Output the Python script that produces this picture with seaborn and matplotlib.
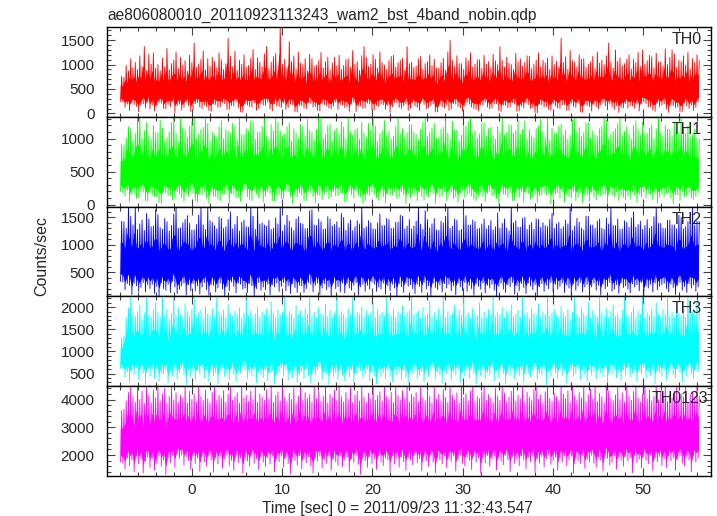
import numpy as np
import seaborn as sns
import matplotlib.pyplot as plt
from matplotlib.ticker import MultipleLocator

# Light curve: per 0.25 s column, the highest spike (hi)
# and the deepest dip (lo) for each band. Time runs from -7.9 s to 56.2 s.
t_start, t_end = -7.9, 56.2

th0_hi = [760, 740, 980, 870, 1120, 940, 1050, 900, 1180, 960, 1370, 880, 1210, 1010, 1240, 930,
          1000, 870, 1130, 950, 1330, 900, 1020, 1090, 1260, 920, 1150, 990, 1080, 860, 1190, 1040,
          1440, 940, 1010, 1110, 1280, 890, 1120, 970, 1150, 1060, 930, 1240, 1100, 900, 1020, 1540,
          1170, 950, 1270, 880, 1090, 1010, 1200, 940, 980, 1130, 1310, 900, 1140, 1050, 960, 1220,
          1370, 920, 1050, 1160, 1230, 890, 1780, 1000, 1110, 940, 1470, 1060, 1180, 910, 1260, 1030,
          1000, 1120, 870, 1210, 1120, 960, 990, 1080, 1250, 930, 1060, 1150, 890, 1030, 1150, 970,
          1190, 900, 980, 1100, 1120, 940, 1290, 1010, 1060, 880, 1180, 1370, 1150, 960, 1010, 1200,
          1110, 930, 1260, 1040, 990, 900, 1080, 1170, 1190, 950, 1040, 1090, 1130, 880, 1370, 1020,
          1050, 940, 970, 1120, 1170, 900, 1020, 1060, 1200, 980, 1110, 930, 930, 1040, 1130, 890,
          1260, 1500, 1090, 960, 1180, 1020, 1020, 900, 1140, 1080, 1240, 950, 1010, 1100, 1100, 920,
          1190, 1010, 1060, 940, 1210, 1080, 1000, 1370, 1080, 950, 1150, 1030, 1000, 900, 1230, 1060,
          1120, 970, 1050, 1180, 1170, 920, 1010, 1090, 1240, 960, 1090, 1030, 1130, 900, 1180, 1000,
          1070, 950, 1540, 1040, 1160, 910, 1290, 1080, 1050, 960, 1200, 1110, 1120, 940, 1010, 1060,
          1170, 920, 1260, 1030, 1090, 1000, 1180, 1440, 1050, 930, 1300, 1070, 1140, 980, 1020, 1110,
          1200, 910, 1110, 1040, 1250, 960, 1300, 1010, 1080, 1190, 1160, 930, 1230, 1050, 1060, 970,
          1320, 1000, 1150, 1300, 1220, 940, 1090, 1060, 1180, 990, 1250, 910, 1120, 1040, 1200, 1080]
th0_lo = [240, 230, 120, 190, 60, 210, 180, 140, 30, 170, 200, 110, 230, 90, 170, 50,
          150, 220, 210, 100, 90, 180, 130, 240, 10, 160, 190, 70, 120, 230, 160, 40,
          70, 200, 220, 130, 100, 170, 140, 60, 40, 190, 180, 120, 130, 220, 200, 80,
          80, 160, 150, 240, 110, 30, 20, 190, 170, 140, 130, 210, 60, 100, 190, 170,
          160, 230, 90, 50, 200, 150, 140, 120, 210, 80, 120, 190, 170, 30, 30, 160,
          160, 110, 90, 220, 200, 130, 140, 60, 50, 210, 180, 150, 110, 90, 150, 230,
          80, 180, 170, 120, 130, 40, 200, 230, 40, 150, 150, 100, 110, 210, 190, 70,
          70, 160, 140, 190, 180, 80, 160, 20, 130, 220, 210, 120, 100, 150, 190, 60,
          100, 210, 150, 120, 60, 240, 180, 90, 120, 160, 200, 30, 30, 180, 140, 110,
          170, 60, 90, 200, 190, 140, 110, 50, 150, 220, 190, 130, 100, 80, 50, 170,
          160, 230, 130, 90, 110, 200, 200, 60, 40, 170, 160, 110, 130, 220, 190, 40,
          50, 150, 110, 210, 180, 100, 120, 20, 10, 190, 170, 130, 140, 80, 60, 200,
          150, 110, 100, 170, 180, 60, 60, 210, 140, 120, 200, 30, 20, 180, 160, 140,
          50, 180, 130, 90, 170, 220, 150, 70, 190, 130, 80, 160, 20, 120, 110, 200,
          110, 160, 150, 100, 190, 50, 200, 230, 200, 130, 130, 70, 40, 210, 140, 170,
          200, 90, 20, 160, 160, 120, 130, 30, 40, 210, 150, 100, 170, 60, 120, 240]

th1_hi = [920, 900, 1010, 1180, 1150, 960, 1080, 1330, 1330, 1000, 1120, 1240, 1040, 990, 1200, 1090,
          1090, 1280, 1160, 970, 1010, 1100, 1240, 1330, 1080, 950, 1330, 1170, 1130, 1020, 1190, 1260,
          1330, 990, 1060, 1140, 1170, 1300, 1230, 960, 1100, 1050, 1010, 1180, 1280, 1000, 1140, 1110,
          1070, 1230, 1190, 980, 1330, 1060, 1050, 1150, 1120, 1270, 1260, 990, 1090, 1100, 1180, 1330,
          1030, 970, 1210, 1120, 1330, 1250, 1110, 1040, 1070, 1180, 1240, 960, 1150, 1080, 1000, 1220,
          1180, 1040, 1290, 1130, 1090, 980, 1140, 1330, 1330, 1010, 1060, 1200, 1220, 950, 1120, 1160,
          1070, 1260, 1180, 1000, 1330, 1100, 1050, 1140, 1160, 990, 1250, 1080, 1020, 1230, 1130, 1290,
          1190, 960, 1080, 1120, 1270, 1040, 1110, 990, 1040, 1180, 1330, 1070, 1150, 1020, 1090, 1210,
          1210, 1100, 1060, 980, 1140, 1250, 1330, 1030, 1100, 1160, 1230, 1000, 1020, 1140, 1170, 1330,
          1080, 990, 1260, 1130, 1130, 970, 1050, 1190, 1190, 1260, 1330, 1080, 1120, 1010, 1070, 1240,
          1240, 1030, 1150, 1170, 1030, 990, 1180, 1100, 1330, 1050, 1090, 1210, 1200, 1080, 1120, 1270,
          1060, 1140, 1270, 990, 1140, 1040, 1010, 1150, 1190, 1290, 1100, 1020, 1330, 970, 1160, 1090,
          1080, 1190, 1220, 1050, 1130, 990, 1050, 1280, 1330, 1100, 1170, 1030, 1090, 1240, 1240, 1010,
          1120, 1060, 1030, 1150, 1190, 1330, 1280, 1000, 1070, 1110, 1150, 1230, 1330, 1040, 1110, 1180,
          1060, 990, 1200, 1270, 1140, 1050, 1250, 1090, 1080, 1160, 1210, 1000, 1150, 1330, 1090, 1040,
          1200, 1140, 1140, 1030, 1250, 1100, 1090, 1330, 1150, 1080, 1190, 1020, 1060, 1140, 1010, 990]
th1_lo = [200, 180, 130, 220, 40, 150, 170, 90, 110, 210, 190, 60, 60, 180, 150, 120,
          120, 30, 10, 190, 180, 130, 140, 70, 90, 200, 160, 110, 50, 170, 130, 210,
          170, 60, 30, 150, 140, 200, 100, 20, 190, 130, 120, 80, 60, 160, 160, 220,
          20, 170, 150, 100, 110, 50, 190, 230, 120, 80, 60, 210, 160, 100, 180, 40,
          130, 190, 170, 60, 50, 140, 150, 90, 90, 200, 200, 120, 10, 150, 110, 180,
          150, 60, 60, 210, 180, 120, 30, 140, 140, 80, 160, 200, 90, 110, 200, 130,
          130, 170, 170, 40, 50, 210, 150, 100, 200, 140, 110, 20, 60, 160, 140, 190,
          150, 100, 60, 180, 120, 30, 160, 140, 140, 200, 90, 110, 200, 150, 10, 170,
          100, 160, 140, 60, 190, 120, 70, 150, 120, 190, 170, 20, 170, 110, 130, 200,
          60, 140, 190, 90, 120, 40, 170, 210, 110, 150, 180, 130, 80, 60, 130, 190,
          120, 50, 170, 200, 130, 140, 90, 20, 200, 160, 150, 110, 180, 60, 60, 150,
          110, 200, 40, 180, 170, 80, 110, 160, 30, 130, 150, 190, 140, 170, 10, 100,
          160, 180, 100, 190, 40, 150, 120, 100, 200, 60, 110, 180, 30, 140, 140, 50,
          190, 120, 70, 160, 130, 150, 160, 20, 180, 140, 110, 190, 60, 130, 110, 70,
          130, 80, 190, 140, 30, 160, 120, 190, 100, 170, 150, 70, 170, 20, 110, 150,
          120, 170, 180, 100, 10, 150, 150, 60, 190, 120, 130, 180, 100, 80, 120, 180]

th2_hi = [1430, 1420, 1300, 1695, 1520, 1360, 1695, 1280, 1380, 1450, 1260, 1570, 1470, 1330, 1340, 1640,
          1550, 1310, 1280, 1480, 1420, 1250, 1350, 1560, 1695, 1300, 1310, 1400, 1460, 1530, 1390, 1270,
          1270, 1370, 1540, 1695, 1360, 1280, 1695, 1440, 1410, 1350, 1290, 1510, 1480, 1300, 1330, 1460,
          1600, 1290, 1370, 1520, 1250, 1410, 1450, 1330, 1320, 1695, 1520, 1280, 1695, 1380, 1400, 1360,
          1340, 1450, 1280, 1300, 1490, 1380, 1695, 1250, 1360, 1540, 1430, 1310, 1260, 1470, 1510, 1390,
          1380, 1290, 1300, 1620, 1640, 1360, 1350, 1470, 1420, 1280, 1290, 1510, 1470, 1340, 1370, 1420,
          1310, 1570, 1500, 1260, 1390, 1450, 1260, 1330, 1440, 1380, 1695, 1300, 1330, 1440, 1400, 1290,
          1280, 1400, 1560, 1350, 1350, 1480, 1460, 1300, 1300, 1410, 1410, 1540, 1520, 1290, 1340, 1460,
          1290, 1340, 1430, 1695, 1370, 1280, 1620, 1460, 1310, 1380, 1480, 1270, 1260, 1430, 1395, 1520,
          1695, 1300, 1340, 1470, 1450, 1260, 1280, 1530, 1530, 1360, 1360, 1450, 1420, 1290, 1300, 1380,
          1470, 1290, 1350, 1440, 1270, 1330, 1580, 1300, 1390, 1470, 1310, 1250, 1695, 1400, 1440, 1320,
          1320, 1480, 1500, 1280, 1360, 1410, 1280, 1470, 1460, 1320, 1400, 1350, 1330, 1460, 1570, 1300,
          1380, 1410, 1290, 1330, 1450, 1380, 1695, 1260, 1340, 1480, 1410, 1300, 1270, 1520, 1520, 1360,
          1360, 1300, 1430, 1470, 1300, 1280, 1490, 1380, 1695, 1350, 1350, 1470, 1280, 1290, 1440, 1410,
          1320, 1490, 1600, 1320, 1370, 1430, 1280, 1350, 1460, 1300, 1340, 1510, 1695, 1390, 1390, 1300,
          1300, 1450, 1450, 1360, 1360, 1290, 1540, 1500, 1290, 1330, 1420, 1430, 1695, 1360, 1430, 1420]
th2_lo = [330, 320, 180, 290, 260, 90, 300, 250, 150, 220, 310, 140, 270, 200, 280, 110,
          240, 60, 310, 200, 170, 280, 130, 330, 230, 110, 190, 250, 300, 80, 270, 160,
          290, 160, 250, 100, 230, 310, 180, 80, 270, 260, 140, 210, 300, 190, 70, 240,
          160, 320, 240, 120, 300, 280, 190, 210, 130, 290, 250, 60, 200, 310, 170, 230,
          180, 280, 90, 270, 230, 300, 150, 240, 310, 160, 250, 110, 290, 220, 130, 260,
          250, 130, 200, 310, 280, 140, 260, 300, 90, 210, 290, 180, 230, 70, 300, 200,
          240, 140, 300, 120, 290, 210, 170, 260, 310, 80, 230, 280, 150, 260, 190, 320,
          280, 150, 230, 190, 300, 100, 250, 160, 280, 210, 60, 290, 230, 130, 300, 240,
          270, 200, 110, 280, 240, 130, 310, 190, 250, 60, 300, 220, 180, 270, 140, 290,
          210, 280, 160, 250, 90, 300, 230, 170, 310, 150, 260, 200, 80, 290, 240, 190,
          300, 120, 260, 210, 280, 170, 70, 240, 300, 190, 130, 270, 230, 310, 100, 250,
          160, 290, 220, 110, 300, 250, 180, 270, 60, 230, 290, 150, 260, 200, 310, 140,
          280, 190, 240, 300, 130, 260, 210, 90, 290, 170, 250, 310, 140, 230, 280, 100,
          230, 300, 170, 260, 80, 280, 200, 240, 310, 150, 190, 270, 110, 300, 220, 250,
          190, 120, 290, 230, 270, 160, 310, 60, 250, 210, 280, 140, 300, 180, 240, 270,
          300, 200, 140, 280, 220, 90, 260, 310, 170, 240, 130, 290, 210, 270, 150, 230]

th3_hi = [1310, 1350, 1760, 1980, 2241, 1850, 1790, 1900, 2050, 1720, 1870, 2241, 1820, 1760, 1940, 2100,
          1880, 1760, 2241, 1800, 1950, 1720, 1860, 2241, 1790, 1990, 1830, 1750, 2080, 1900, 1810, 1960,
          2241, 1780, 1870, 1930, 1740, 2020, 1850, 1800, 1960, 1770, 2241, 1890, 1820, 1940, 1760, 2060,
          1850, 1790, 1910, 1840, 1980, 1750, 1870, 2241, 1800, 1920, 1780, 1850, 2010, 1760, 1890, 1830,
          1950, 1790, 2120, 1860, 1770, 1940, 1820, 1880, 2241, 1790, 1900, 1850, 1760, 2030, 1830, 1910,
          1780, 1960, 1840, 2241, 1800, 1880, 1750, 1990, 1860, 1820, 2070, 1790, 1930, 1770, 1870, 2241,
          1810, 1900, 1840, 1760, 1960, 1830, 2241, 1790, 1890, 1850, 2000, 1770, 1920, 1810, 1870, 2090,
          1760, 1940, 1830, 1880, 1790, 2241, 1860, 1800, 1950, 1770, 1900, 1840, 2020, 1790, 1880, 1930,
          2241, 1820, 1870, 1910, 1740, 1990, 1800, 1850, 2150, 1780, 1880, 1720, 1960, 1830, 2241, 1770,
          1900, 1810, 1860, 2040, 1750, 1930, 1820, 2241, 1790, 1870, 1740, 1980, 1850, 1800, 2100, 1770,
          1890, 1760, 1950, 1840, 2241, 1780, 1870, 1820, 1990, 1750, 1910, 1860, 2060, 1790, 1840, 1930,
          1770, 2241, 1820, 1880, 1740, 1970, 1850, 1800, 2080, 1760, 1900, 1830, 2241, 1790, 1870, 1950,
          1810, 1760, 2020, 1850, 1790, 1940, 1720, 1880, 2241, 1830, 1770, 1990, 1860, 1800, 2110, 1750,
          1920, 1840, 1780, 2241, 1870, 1810, 1960, 1760, 1890, 2050, 1800, 1850, 1740, 1930, 2241, 1820,
          1790, 1880, 2000, 1770, 1910, 1840, 2241, 1760, 1870, 1820, 1970, 1800, 2090, 1850, 1780, 1940,
          1830, 2241, 1790, 1880, 1760, 2010, 1850, 1810, 1950, 1770, 2241, 1860, 1900, 1820, 2130, 1880]
th3_lo = [620, 600, 410, 530, 300, 580, 470, 640, 360, 600, 500, 260, 560, 440, 610, 390,
          610, 330, 520, 480, 580, 280, 540, 430, 600, 370, 510, 640, 460, 250, 590, 420,
          530, 350, 570, 490, 620, 400, 560, 310, 600, 450, 520, 270, 580, 630, 430, 490,
          360, 610, 470, 320, 550, 500, 640, 580, 380, 520, 440, 600, 290, 540, 470, 410,
          590, 340, 510, 560, 260, 480, 530, 620, 450, 600, 350, 520, 410, 570, 300, 490,
          550, 390, 610, 440, 280, 530, 470, 580, 640, 360, 540, 490, 250, 590, 430, 520,
          370, 600, 460, 330, 550, 420, 580, 300, 510, 630, 560, 400, 480, 610, 340, 530,
          450, 270, 590, 420, 510, 380, 570, 440, 310, 600, 470, 530, 360, 580, 410, 290,
          550, 500, 600, 390, 460, 540, 320, 570, 430, 590, 620, 380, 520, 460, 280, 560,
          490, 610, 350, 540, 470, 600, 300, 530, 440, 580, 400, 620, 510, 260, 570, 450,
          600, 370, 520, 480, 620, 330, 560, 410, 590, 500, 270, 540, 460, 610, 380, 520,
          450, 580, 300, 600, 490, 420, 560, 630, 350, 510, 470, 590, 240, 550, 430, 600,
          520, 390, 610, 460, 560, 280, 530, 600, 440, 500, 620, 360, 570, 480, 310, 590,
          470, 540, 380, 600, 510, 430, 620, 290, 560, 490, 600, 410, 530, 340, 580, 460,
          610, 420, 500, 570, 320, 550, 480, 630, 390, 540, 460, 600, 270, 560, 510, 440,
          580, 350, 530, 610, 470, 400, 590, 510, 300, 560, 440, 620, 490, 380, 570, 530]

th0123_hi = [3600, 3650, 3950, 4250, 4480, 4100, 3900, 4480, 4000, 4300, 3850, 4480, 4150, 3880, 4350, 4050,
             4480, 3950, 4200, 4400, 3850, 4100, 4480, 3980, 4250, 3900, 4150, 4050, 4480, 3870, 4300, 4000,
             4200, 3920, 4480, 4100, 3960, 4350, 4020, 3880, 4250, 4480, 3950, 4150, 4050, 4320, 3900, 4200,
             4480, 3980, 4100, 4250, 3870, 4480, 4050, 4150, 3930, 4300, 4000, 4480, 3900, 4200, 4080, 3960,
             4350, 4020, 4480, 3890, 4150, 4280, 3950, 4480, 4070, 3920, 4220, 4000, 4400, 3880, 4130, 4480,
             3970, 4250, 4050, 4180, 3900, 4480, 4030, 4300, 3940, 4120, 4480, 3870, 4200, 4060, 4340, 3960,
             4480, 4100, 3920, 4250, 4010, 4480, 3890, 4160, 4300, 3950, 4480, 4080, 3900, 4230, 4020, 4480,
             3970, 4150, 4280, 3940, 4480, 4100, 4010, 4260, 3880, 4480, 4140, 3990, 4320, 4060, 4480, 3930,
             4200, 4090, 4250, 3910, 4480, 4050, 3960, 4310, 4120, 3870, 4480, 4020, 4190, 3940, 4360, 4080,
             3900, 4480, 4150, 4000, 4240, 3880, 4480, 4070, 4200, 3950, 4310, 4480, 3920, 4100, 4030, 4270,
             4480, 3960, 4180, 4050, 3890, 4400, 4120, 3970, 4480, 4230, 3910, 4080, 4300, 4480, 3940, 4160,
             4020, 4480, 3900, 4260, 4090, 3960, 4350, 4480, 4010, 4170, 3880, 4280, 4480, 4040, 3930, 4210,
             4100, 3950, 4480, 4190, 4030, 4320, 3900, 4480, 4140, 3980, 4250, 4060, 4480, 3920, 4180, 4380,
             4010, 4480, 3940, 4220, 4100, 3890, 4480, 4300, 4050, 3960, 4170, 4480, 4000, 4240, 3910, 4480,
             4130, 3970, 4290, 4480, 4060, 3920, 4200, 4480, 4020, 4340, 3950, 4110, 4480, 3990, 4260, 4080,
             4480, 3930, 4150, 4040, 4300, 4480, 3960, 4210, 4090, 4480, 3900, 4180, 4270, 4010, 4480, 4120]
th0123_lo = [1750, 1700, 1500, 1900, 1620, 1820, 1400, 1950, 1680, 1850, 1350, 1780, 1920, 1560, 1880, 1450,
             1700, 1960, 1600, 1820, 1300, 1900, 1720, 1980, 1550, 2050, 1880, 2000, 1640, 1930, 1800, 1480,
             1970, 1700, 1890, 1420, 1950, 1760, 1600, 1980, 1820, 1380, 1900, 1680, 1940, 1520, 1850, 1990,
             1630, 1810, 1450, 1960, 1720, 1880, 1340, 1920, 1780, 1600, 1990, 1700, 1860, 1470, 1930, 1750,
             1580, 1900, 1680, 1970, 1400, 1840, 1760, 1950, 1560, 1880, 1700, 1320, 1920, 1800, 1640, 1980,
             1500, 1860, 1720, 1940, 1600, 1350, 1900, 1780, 1960, 1530, 1840, 1700, 1990, 1450, 1880, 1760,
             1620, 1950, 1580, 1820, 1920, 1380, 1860, 1740, 1980, 1660, 1300, 1900, 1800, 1560, 1940, 1700,
             1850, 1480, 1960, 1740, 1620, 1900, 1830, 1400, 1970, 1680, 1880, 1560, 1940, 1760, 1450, 1900,
             1820, 1650, 1990, 1720, 1870, 1430, 1950, 1790, 1590, 2000, 1740, 1360, 1910, 1830, 1680, 1960,
             1540, 1880, 1770, 1960, 1420, 1850, 1990, 1700, 1610, 1930, 1800, 1480, 1960, 1750, 1900, 1350,
             1870, 1720, 1980, 1590, 1840, 1950, 1460, 1900, 1780, 1650, 1990, 1820, 1400, 1940, 1700, 1860,
             1610, 1970, 1830, 1500, 1920, 1760, 1990, 1380, 1880, 1710, 1950, 1570, 1860, 2000, 1660, 1800,
             1930, 1450, 1870, 1740, 1980, 1620, 1820, 1960, 1330, 1900, 1780, 1690, 1990, 1520, 1850, 1760,
             1990, 1700, 1560, 1930, 1810, 1420, 1960, 1880, 1650, 1740, 1970, 1480, 1890, 1800, 1600, 1950,
             1780, 1900, 1360, 1980, 1720, 1850, 1540, 1940, 1800, 1680, 1990, 1430, 1870, 1760, 1950, 1620,
             1860, 1550, 1970, 1790, 1900, 1440, 1840, 1980, 1700, 1610, 1930, 1820, 1390, 1960, 1750, 1880]

bands = ["TH0", "TH1", "TH2", "TH3", "TH0123"]
band_hi = [th0_hi, th1_hi, th2_hi, th3_hi, th0123_hi]
band_lo = [th0_lo, th1_lo, th2_lo, th3_lo, th0123_lo]
colors = ["#ff0000", "#00ff00", "#0000ff", "#00ffff", "#ff00ff"]
ylims = [(-70, 1770), (-30, 1330), (58, 1695), (214, 2241), (1245, 4480)]
ymajor = [500, 500, 500, 500, 1000]
yminor = [100, 100, 100, 100, 200]
label_x = [0.985, 0.985, 0.985, 0.985, 0.996]

sns.set_style("ticks")
plt.rcParams["font.family"] = ["Liberation Sans", "DejaVu Sans"]
plt.rcParams["font.size"] = 11

fig, axes = plt.subplots(5, 1, sharex=True, figsize=(7.17, 5.16), dpi=100)
fig.subplots_adjust(left=107 / 717, right=711 / 717, top=1 - 27 / 516, bottom=1 - 476 / 516, hspace=0)

for i, ax in enumerate(axes):
    hi = np.array(band_hi[i], dtype=float)
    lo = np.array(band_lo[i], dtype=float)
    n = len(hi)
    # zig-zag: dip then spike for every column
    t_zig = np.linspace(t_start, t_end, 2 * n)
    zig = np.column_stack([lo, hi]).ravel()
    # solid core of the band
    t_core = t_zig[::2]
    ax.fill_between(t_core, lo + 0.13 * (hi - lo), lo + 0.65 * (hi - lo), color=colors[i], lw=0.4)
    sns.lineplot(x=t_zig, y=zig, ax=ax, color=colors[i], lw=0.6, sort=False, estimator=None)

    ax.set_xlim(-9.4, 57.5)
    ax.set_ylim(*ylims[i])
    ax.yaxis.set_major_locator(MultipleLocator(ymajor[i]))
    ax.yaxis.set_minor_locator(MultipleLocator(yminor[i]))
    ax.xaxis.set_major_locator(MultipleLocator(10))
    ax.xaxis.set_minor_locator(MultipleLocator(2))
    ax.tick_params(which="both", direction="in", top=True, right=True, color="#444444", width=0.8)
    ax.tick_params(which="major", length=6, labelsize=11)
    ax.tick_params(axis="y", which="major", pad=9)
    ax.tick_params(axis="x", which="major", pad=5)
    ax.tick_params(which="minor", length=3)
    for s in ax.spines.values():
        s.set_color("black")
        s.set_linewidth(1.0)
    ax.set_ylabel("")
    ax.text(label_x[i], 0.945, bands[i], transform=ax.transAxes, ha="right", va="top", fontsize=11.5)

axes[0].set_title("ae806080010_20110923113243_wam2_bst_4band_nobin.qdp", loc="left", pad=5, fontsize=11.2)
fig.text(41.5 / 717, 1 - 256 / 516, "Counts/sec", rotation=90, ha="center", va="center", fontsize=11.5)
fig.text(397 / 717, 1 - 508 / 516, "Time [sec] 0 = 2011/09/23 11:32:43.547", ha="center", va="center", fontsize=11.2)

fig.savefig("out.png", dpi=100)
